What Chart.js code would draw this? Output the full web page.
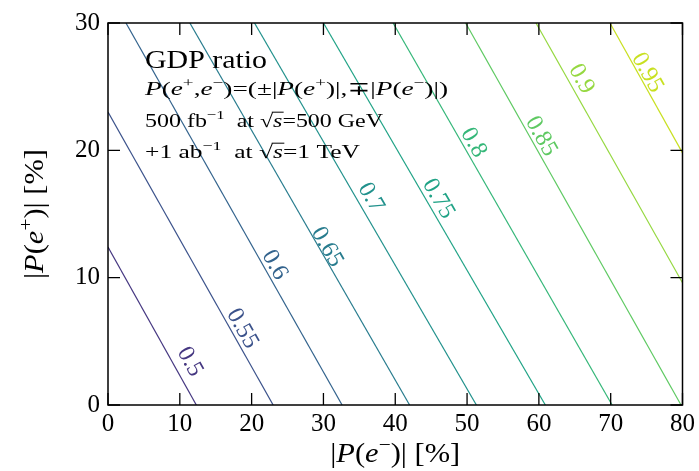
<!DOCTYPE html>
<html>
<head>
<meta charset="utf-8">
<script src="https://cdn.jsdelivr.net/npm/chart.js@4.4.0/dist/chart.umd.min.js"></script>
<style>
  html, body { margin: 0; padding: 0; background: #fff; }
</style>
</head>
<body>
<canvas id="chart" width="699" height="471"></canvas>
<script>
// contour levels and their end points
const levels = [0.5, 0.55, 0.6, 0.65, 0.7, 0.75, 0.8, 0.85, 0.9, 0.95];
const lineX = [[0, 12.3], [0, 23.0], [2.5, 32.6], [11.4, 42.0], [20.4, 51.3], [30.0, 60.9], [39.7, 70.2], [49.8, 79.8], [59.6, 80], [69.9, 80]];
const lineY = [[12.4, 0], [23.0, 0], [30, 0], [30, 0], [30, 0], [30, 0], [30, 0], [30, 0], [30, 9.6], [30, 19.8]];
const labelX = [11.4, 18.7, 23.2, 30.5, 36.6, 46.0, 50.9, 60.3, 65.9, 75.1];
const labelY = [3.4, 6.0, 11.0, 12.4, 16.3, 16.2, 20.6, 21.1, 25.6, 26.1];
const levelColors = ["#453781", "#3b528b", "#33638d", "#287c8e", "#21918c", "#20a386", "#35b779", "#5ec962", "#95d840", "#c8e020"];
const xTicks = [0, 10, 20, 30, 40, 50, 60, 70, 80];
const yTicks = [0, 10, 20, 30];

const SERIF = "'Liberation Serif', 'DejaVu Serif', serif";

// rich text: [text, style]  style: '' normal, 'i' italic, '^' superscript, 'o' italic with bar on top
function segFont(style, size) {
  const s = style.includes("^") ? size * 0.7 : size;
  const it = (style.includes("i") || style.includes("o")) ? "italic " : "";
  return it + s + "px " + SERIF;
}
function richWidth(ctx, segs, size) {
  let w = 0;
  for (const [t, st] of segs) { ctx.font = segFont(st, size); w += ctx.measureText(t).width; }
  return w;
}
function drawRich(ctx, segs, x, y, size, fitW, center) {
  const w = richWidth(ctx, segs, size);
  const k = fitW ? fitW / w : 1;
  ctx.save();
  ctx.translate(x, y);
  ctx.scale(k, 1);
  let cx = center ? -w / 2 : 0;
  ctx.textBaseline = "alphabetic";
  ctx.textAlign = "left";
  for (const [t, st] of segs) {
    ctx.font = segFont(st, size);
    const dy = st.includes("^") ? -size * 0.4 : 0;
    ctx.fillText(t, cx, dy);
    const tw = ctx.measureText(t).width;
    if (st.includes("o")) {
      ctx.beginPath();
      ctx.lineWidth = 1;
      ctx.moveTo(cx - 1, -size * 0.78);
      ctx.lineTo(cx + tw + 1, -size * 0.78);
      ctx.stroke();
    }
    cx += tw;
  }
  ctx.restore();
}

const datasets = levels.map((lv, i) => ({
  label: String(lv),
  data: lineX[i].map((x, j) => ({ x: x, y: lineY[i][j] })),
  showLine: true,
  borderColor: levelColors[i],
  borderWidth: 1.2,
  pointRadius: 0,
  fill: false
}));

const deco = {
  id: "deco",
  afterDraw(chart) {
    const ctx = chart.ctx;
    const a = chart.chartArea;
    const xs = chart.scales.x, ys = chart.scales.y;

    // contour labels, rotated along each line
    levels.forEach((lv, i) => {
      const p0x = xs.getPixelForValue(lineX[i][0]), p0y = ys.getPixelForValue(lineY[i][0]);
      const p1x = xs.getPixelForValue(lineX[i][1]), p1y = ys.getPixelForValue(lineY[i][1]);
      const ang = Math.atan2(p1y - p0y, p1x - p0x);
      ctx.save();
      ctx.translate(xs.getPixelForValue(labelX[i]), ys.getPixelForValue(labelY[i]));
      ctx.rotate(ang);
      ctx.font = "24px " + SERIF;
      ctx.fillStyle = levelColors[i];
      ctx.textAlign = "center";
      ctx.textBaseline = "middle";
      ctx.fillText(String(lv), 0, 0);
      ctx.restore();
    });

    // frame and inward ticks on all four sides
    ctx.save();
    ctx.strokeStyle = "#000";
    ctx.lineWidth = 1.5;
    ctx.strokeRect(a.left, a.top, a.right - a.left, a.bottom - a.top);
    ctx.lineWidth = 1.3;
    const tl = 12;
    ctx.beginPath();
    xTicks.forEach(v => {
      const px = xs.getPixelForValue(v);
      ctx.moveTo(px, a.bottom); ctx.lineTo(px, a.bottom - tl);
      ctx.moveTo(px, a.top); ctx.lineTo(px, a.top + tl);
    });
    yTicks.forEach(v => {
      const py = ys.getPixelForValue(v);
      ctx.moveTo(a.left, py); ctx.lineTo(a.left + tl, py);
      ctx.moveTo(a.right, py); ctx.lineTo(a.right - tl, py);
    });
    ctx.stroke();
    ctx.restore();

    // annotation text
    ctx.save();
    ctx.fillStyle = "#000";
    ctx.strokeStyle = "#000";
    const tx = a.left + 37;
    drawRich(ctx, [["GDP ratio", ""]], tx, 68, 26, 122);
    drawRich(ctx, [
      ["P", "i"], ["(", ""], ["e", "i"], ["+", "^"], [",", ""], ["e", "i"], ["\u2212", "^"],
      [")=(\u00b1|", ""], ["P", "i"], ["(", ""], ["e", "i"], ["+", "^"], [")|,\u2213|", ""],
      ["P", "i"], ["(", ""], ["e", "i"], ["\u2212", "^"], [")|)", ""]
    ], tx, 95, 19, 303);
    drawRich(ctx, [
      ["500 fb", ""], ["\u22121", "^"], ["  at \u221a", ""], ["s", "o"], ["=500 GeV", ""]
    ], tx, 127, 19, 238);
    drawRich(ctx, [
      ["+1 ab", ""], ["\u22121", "^"], ["  at \u221a", ""], ["s", "o"], ["=1 TeV", ""]
    ], tx, 158, 19, 215);

    // axis titles
    const cxm = (a.left + a.right) / 2;
    drawRich(ctx, [["|", ""], ["P", "i"], ["(", ""], ["e", "i"], ["\u2212", "^"], [")| [%]", ""]], cxm, 462, 27, 130, true);
    ctx.save();
    ctx.translate(43, (a.top + a.bottom) / 2);
    ctx.rotate(-Math.PI / 2);
    drawRich(ctx, [["|", ""], ["P", "i"], ["(", ""], ["e", "i"], ["+", "^"], [")| [%]", ""]], 0, 0, 27, 130, true);
    ctx.restore();
    ctx.restore();
  }
};

new Chart(document.getElementById("chart"), {
  type: "scatter",
  data: { datasets: datasets },
  options: {
    responsive: false,
    animation: false,
    layout: { padding: { top: 22, right: 14, left: 0, bottom: 0 } },
    plugins: { legend: { display: false }, tooltip: { enabled: false } },
    scales: {
      x: {
        type: "linear", min: 0, max: 80,
        afterBuildTicks: s => { s.ticks = xTicks.map(v => ({ value: v })); },
        afterFit: s => { s.height = 66; },
        grid: { display: false, drawTicks: false },
        border: { display: false },
        ticks: { color: "#000", padding: 4, font: { family: SERIF, size: 25 } }
      },
      y: {
        type: "linear", min: 0, max: 30,
        afterBuildTicks: s => { s.ticks = yTicks.map(v => ({ value: v })); },
        afterFit: s => { s.width = 108; },
        grid: { display: false, drawTicks: false },
        border: { display: false },
        ticks: { color: "#000", padding: 8, font: { family: SERIF, size: 25 } }
      }
    }
  },
  plugins: [deco]
});
</script>
</body>
</html>
